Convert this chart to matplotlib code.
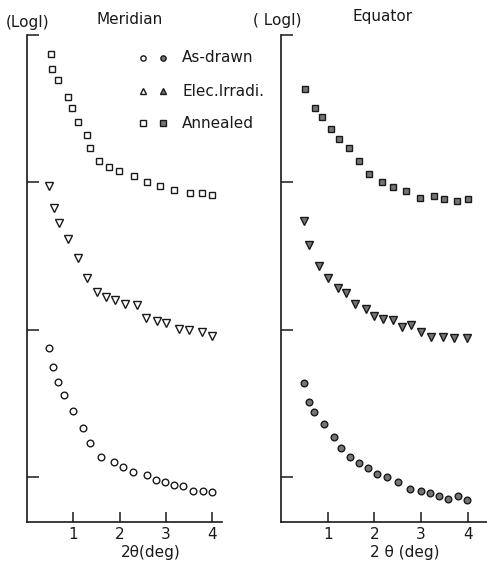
import matplotlib
matplotlib.use("Agg")
import matplotlib.pyplot as plt

# ---- data (2theta in deg, log I in arbitrary offset units) ----
mer_drawn_x = [0.48, 0.57, 0.68, 0.79, 0.99, 1.20, 1.37, 1.59, 1.87, 2.07, 2.29, 2.58, 2.78, 2.97, 3.17, 3.37, 3.59, 3.79, 4.00]
mer_drawn_y = [0.874, 0.750, 0.649, 0.561, 0.446, 0.333, 0.232, 0.140, 0.101, 0.066, 0.034, 0.014, -0.018, -0.032, -0.056, -0.063, -0.095, -0.097, -0.103]

mer_irr_x = [0.48, 0.59, 0.70, 0.89, 1.10, 1.29, 1.51, 1.71, 1.90, 2.12, 2.37, 2.57, 2.80, 3.00, 3.28, 3.50, 3.77, 4.00]
mer_irr_y = [1.978, 1.826, 1.725, 1.613, 1.489, 1.353, 1.257, 1.225, 1.203, 1.174, 1.169, 1.083, 1.061, 1.043, 1.005, 1.000, 0.982, 0.959]

mer_ann_x = [0.51, 0.55, 0.66, 0.89, 0.97, 1.11, 1.30, 1.36, 1.56, 1.77, 1.99, 2.30, 2.59, 2.88, 3.17, 3.51, 3.77, 4.00]
mer_ann_y = [2.874, 2.772, 2.698, 2.581, 2.502, 2.412, 2.322, 2.232, 2.142, 2.103, 2.074, 2.041, 2.000, 1.973, 1.951, 1.926, 1.926, 1.917]

equ_drawn_x = [0.49, 0.60, 0.71, 0.91, 1.13, 1.28, 1.47, 1.67, 1.87, 2.06, 2.26, 2.50, 2.77, 2.99, 3.18, 3.39, 3.58, 3.78, 3.98]
equ_drawn_y = [0.642, 0.509, 0.441, 0.358, 0.272, 0.201, 0.135, 0.097, 0.059, 0.025, -0.002, -0.034, -0.079, -0.095, -0.110, -0.128, -0.151, -0.128, -0.157]

equ_irr_x = [0.50, 0.61, 0.81, 1.01, 1.21, 1.39, 1.59, 1.81, 1.99, 2.19, 2.40, 2.60, 2.78, 2.99, 3.21, 3.47, 3.71, 3.98]
equ_irr_y = [1.736, 1.572, 1.432, 1.353, 1.286, 1.248, 1.178, 1.144, 1.095, 1.076, 1.068, 1.022, 1.034, 0.982, 0.948, 0.948, 0.941, 0.941]

equ_ann_x = [0.52, 0.73, 0.87, 1.07, 1.24, 1.46, 1.68, 1.88, 2.17, 2.40, 2.68, 2.98, 3.28, 3.50, 3.77, 4.01]
equ_ann_y = [2.637, 2.507, 2.446, 2.363, 2.295, 2.232, 2.142, 2.059, 2.002, 1.968, 1.939, 1.894, 1.910, 1.887, 1.872, 1.887]

xticks = [1, 2, 3, 4]
yticks = [0, 1, 2, 3]
legend_labels = ["As-drawn", "Elec.Irradi.", "Annealed"]

W, H = 487, 569
fig = plt.figure(figsize=(W / 100, H / 100), dpi=100)
plt.rcParams['font.family'] = ['DejaVu Sans']

ink = '#1a1a1a'
fill = '#757575'
fs = 11

def make_ax(left_px, right_px, xmax, xlabel, label_x):
    ax = fig.add_axes([left_px / W, 1 - 522 / H, (right_px - left_px) / W, (522 - 35) / H])
    ax.set_xlim(0, xmax)
    ax.set_ylim(-0.304, 3.0)
    for s in ('top', 'right'):
        ax.spines[s].set_visible(False)
    for s in ('left', 'bottom'):
        ax.spines[s].set_linewidth(1.2)
        ax.spines[s].set_color(ink)
    ax.set_xticks(xticks)
    ax.set_xticklabels([str(t) for t in xticks], fontsize=fs, color=ink)
    ax.set_yticks(yticks)
    ax.set_yticklabels([])
    ax.tick_params(axis='x', direction='in', length=7, width=1.1, pad=3.5, colors=ink)
    ax.tick_params(axis='y', direction='in', length=8.5, width=1.1, colors=ink)
    ax.set_xlabel(xlabel, fontsize=fs, color=ink)
    ax.xaxis.set_label_coords(label_x, -0.047, transform=ax.transAxes)
    ax.xaxis.label.set_va('top')
    for sp in ax.spines.values():
        sp.set_clip_on(False)
    return ax

axL = make_ax(27, 222, 4.21, "2θ(deg)", 0.636)
axR = make_ax(281, 487, 4.41, "2 θ (deg)", 0.602)

ms = 4.8
kw_open = dict(linestyle='none', markerfacecolor='white', markeredgecolor=ink, markeredgewidth=1.0)
kw_fill = dict(linestyle='none', markerfacecolor=fill, markeredgecolor=ink, markeredgewidth=1.0)

axL.plot(mer_drawn_x, mer_drawn_y, 'o', markersize=ms, clip_on=False, **kw_open)
axL.plot(mer_irr_x, mer_irr_y, 'v', markersize=ms + 1, clip_on=False, **kw_open)
axL.plot(mer_ann_x, mer_ann_y, 's', markersize=ms, clip_on=False, **kw_open)

axR.plot(equ_drawn_x, equ_drawn_y, 'o', markersize=ms, clip_on=False, **kw_fill)
axR.plot(equ_irr_x, equ_irr_y, 'v', markersize=ms + 1, clip_on=False, **kw_fill)
axR.plot(equ_ann_x, equ_ann_y, 's', markersize=ms, clip_on=False, **kw_fill)

# titles
fig.text(6 / W, 1 - 22 / H, "(LogI)", fontsize=fs, va='center', ha='left', color=ink)
fig.text(97 / W, 1 - 19 / H, "Meridian", fontsize=fs, va='center', ha='left', color=ink)
fig.text(253 / W, 1 - 20 / H, "( LogI)", fontsize=fs, va='center', ha='left', color=ink)
fig.text(352 / W, 1 - 17 / H, "Equator", fontsize=fs, va='center', ha='left', color=ink)

# legend (manual, figure coordinates)
leg_markers = ['o', '^', 's']
leg_rows = [58, 91, 123]
for mk, lab, yp in zip(leg_markers, legend_labels, leg_rows):
    fig.lines.append(plt.Line2D([143 / W], [1 - yp / H], marker=mk, markersize=3.8,
                                transform=fig.transFigure, **kw_open))
    fig.lines.append(plt.Line2D([163 / W], [1 - yp / H], marker=mk, markersize=3.8,
                                transform=fig.transFigure, **kw_fill))
    fig.text(182 / W, 1 - yp / H, lab, fontsize=fs, va='center', ha='left', color=ink)

fig.savefig("out.png", dpi=100, facecolor='white')
